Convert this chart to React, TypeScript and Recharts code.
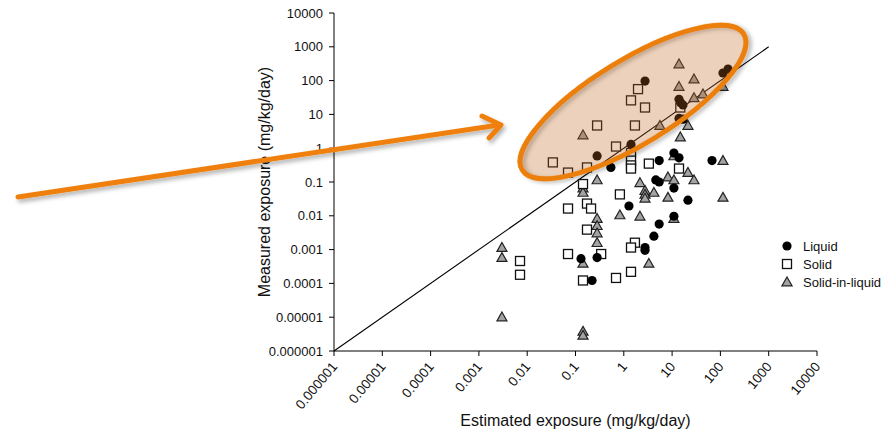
import React from "react";
import {
  ScatterChart,
  Scatter,
  XAxis,
  YAxis,
  ReferenceLine,
  Label,
} from "recharts";

// log ticks shared by both axes
const TICKS = [1e-6, 1e-5, 1e-4, 1e-3, 1e-2, 1e-1, 1, 10, 100, 1000, 10000];
const TICK_LABELS = [
  "0.000001", "0.00001", "0.0001", "0.001", "0.01", "0.1",
  "1", "10", "100", "1000", "10000",
];

// [estimated, measured] in mg/kg/day
const liquid: [number, number][] = [
  [2.75, 97], [0.28, 0.59], [1.41, 1.29], [0.54, 0.27], [13.9, 28],
  [16.8, 19], [15, 22], [13.9, 7.6], [16.8, 7.2], [113, 168], [144, 220],
  [5.4, 0.43], [10.9, 0.72], [13.9, 0.52], [67, 0.43], [4.6, 0.115],
  [5.4, 0.1], [10.9, 0.066], [1.28, 0.0195], [21.3, 0.029], [10.9, 0.0097],
  [5.4, 0.0057], [4.2, 0.0025], [2.75, 0.00115], [2.75, 0.00095],
  [0.13, 0.00054], [0.28, 0.00058], [0.22, 0.000122],
];

const solid: [number, number][] = [
  [0.034, 0.38], [0.07, 0.19], [0.173, 0.27], [0.28, 4.7], [0.69, 1.12],
  [1.7, 4.7], [1.41, 26], [1.97, 56], [2.75, 16], [14.8, 16], [1.41, 0.72],
  [1.41, 0.43], [1.41, 0.31], [1.41, 0.25], [3.3, 0.35], [13.9, 0.25],
  [0.143, 0.087], [0.83, 0.043], [0.07, 0.0164], [0.173, 0.023],
  [0.21, 0.0164], [0.173, 0.0039], [0.0071, 0.00046], [0.0071, 0.00018],
  [0.07, 0.00074], [0.34, 0.00074], [0.143, 0.000122], [0.69, 0.000145],
  [1.7, 0.0016], [1.41, 0.00115], [1.41, 0.00022],
];

const solidInLiquid: [number, number][] = [
  [0.143, 2.46], [13.9, 310], [28.4, 111], [13.9, 67], [28.4, 31],
  [43.6, 40], [5.6, 4.7], [21.3, 4.7], [14.8, 2.14], [113, 67],
  [0.28, 0.115], [0.143, 0.066], [0.143, 0.049], [0.83, 0.0106],
  [0.28, 0.0083], [0.28, 0.0051], [0.28, 0.0031], [0.28, 0.0016],
  [0.003, 0.00115], [0.003, 0.00058], [0.143, 0.00039], [0.003, 0.0000101],
  [0.143, 0.0000038], [0.143, 0.0000029], [2.16, 0.095], [2.75, 0.056],
  [2.75, 0.043], [2.75, 0.033], [4.2, 0.049], [8.2, 0.14], [10.9, 0.115],
  [21.3, 0.19], [28.4, 0.115], [10.9, 0.59], [113, 0.43], [113, 0.035],
  [8.2, 0.035], [2.16, 0.0097], [10.9, 0.0083], [3.3, 0.00039],
];

const SERIES = ["Liquid", "Solid", "Solid-in-liquid"];

const toPoints = (arr: [number, number][]) => arr.map(([x, y]) => ({ x, y }));

const FONT = "'Liberation Sans', Arial, sans-serif";

const Dot = ({ cx, cy }: any) => <circle cx={cx} cy={cy} r={4.6} fill="#000" />;
const Box = ({ cx, cy }: any) => (
  <rect x={cx - 4.5} y={cy - 4.5} width={9} height={9} fill="#fff" stroke="#111" strokeWidth={1.3} />
);
const Tri = ({ cx, cy }: any) => (
  <path
    d={`M${cx},${cy - 5} L${cx + 5},${cy + 3.8} L${cx - 5},${cy + 3.8} Z`}
    fill="#a3a3a3"
    stroke="#222"
    strokeWidth={1.2}
  />
);

const icons = [
  <circle key="c" cx={6} cy={6} r={4.6} fill="#000" />,
  <rect key="r" x={1.5} y={1.5} width={9} height={9} fill="#fff" stroke="#111" strokeWidth={1.3} />,
  <path key="t" d="M6,1 L11,9.8 L1,9.8 Z" fill="#a3a3a3" stroke="#222" strokeWidth={1.2} />,
];

const LegendBox = () => (
  <div
    style={{
      position: "absolute",
      left: 781,
      top: 237,
      fontFamily: FONT,
      fontSize: 13,
      color: "#111",
    }}
  >
    {SERIES.map((name, i) => (
      <div key={name} style={{ display: "flex", alignItems: "center", height: 18 }}>
        <svg width={12} height={12} style={{ marginRight: 10 }}>
          {icons[i]}
        </svg>
        <span>{name}</span>
      </div>
    ))}
  </div>
);

const fmt = (v: number) => {
  const i = TICKS.findIndex((t) => Math.abs(Math.log10(t) - Math.log10(v)) < 1e-6);
  return i >= 0 ? TICK_LABELS[i] : String(v);
};

const XTick = ({ x, y, payload }: any) => (
  <text
    transform={`translate(${x + 4},${y + 11}) rotate(-50)`}
    textAnchor="end"
    fontSize={13.5}
    fontFamily={FONT}
    fill="#111"
  >
    {fmt(payload.value)}
  </text>
);

export default function App() {
  return (
    <div style={{ position: "absolute", left: 0, top: 0, width: 892, height: 432, background: "#fff" }}>
      <ScatterChart width={892} height={432} margin={{ top: 13, right: 75, bottom: 0, left: 254 }}>
        <XAxis
          type="number"
          dataKey="x"
          scale="log"
          domain={[1e-6, 1e4]}
          ticks={TICKS}
          interval={0}
          allowDataOverflow
          stroke="#000"
          tickSize={5}
          tickMargin={0}
          height={81}
          tick={<XTick />}
        >
          <Label
            content={({ viewBox }: any) => (
              <text
                x={viewBox.x + viewBox.width / 2}
                y={viewBox.y + 75}
                textAnchor="middle"
                fontSize={16}
                fontFamily={FONT}
                fill="#111"
              >
                Estimated exposure (mg/kg/day)
              </text>
            )}
          />
        </XAxis>
        <YAxis
          type="number"
          dataKey="y"
          scale="log"
          domain={[1e-6, 1e4]}
          ticks={TICKS}
          interval={0}
          allowDataOverflow
          stroke="#000"
          tickSize={5}
          tickMargin={6}
          width={80}
          tickFormatter={fmt}
          tick={{ fontSize: 13, fontFamily: FONT, fill: "#111" }}
        >
          <Label
            content={({ viewBox }: any) => {
              const cx = viewBox.x + 16;
              const cy = viewBox.y + viewBox.height / 2;
              return (
                <text
                  transform={`translate(${cx},${cy}) rotate(-90)`}
                  textAnchor="middle"
                  fontSize={16}
                  fontFamily={FONT}
                  fill="#111"
                >
                  Measured exposure (mg/kg/day)
                </text>
              );
            }}
          />
        </YAxis>
        <ReferenceLine
          segment={[
            { x: 1e-6, y: 1e-6 },
            { x: 1000, y: 1000 },
          ]}
          stroke="#000"
          strokeWidth={1.1}
        />
        <Scatter name={SERIES[2]} data={toPoints(solidInLiquid)} shape={<Tri />} isAnimationActive={false} />
        <Scatter name={SERIES[1]} data={toPoints(solid)} shape={<Box />} isAnimationActive={false} />
        <Scatter name={SERIES[0]} data={toPoints(liquid)} shape={<Dot />} isAnimationActive={false} />
      </ScatterChart>
      <LegendBox />
      {/* highlight annotation: ellipse + arrow */}
      <svg
        width={892}
        height={432}
        style={{ position: "absolute", left: 0, top: 0, pointerEvents: "none" }}
      >
        <defs>
          <filter id="shadow" x="-20%" y="-20%" width="140%" height="160%">
            <feDropShadow dx={2} dy={3} stdDeviation={2} floodColor="#000" floodOpacity={0.3} />
          </filter>
        </defs>
        <g transform="rotate(-31.5 633 102)">
          <ellipse cx={633} cy={102} rx={130} ry={42} fill="none" stroke="#ec7f0c" strokeWidth={4.5} filter="url(#shadow)" />
          <ellipse cx={633} cy={102} rx={130} ry={42} fill="#c06a20" fillOpacity={0.3} stroke="none" />
          <ellipse cx={633} cy={102} rx={130} ry={42} fill="none" stroke="#ec7f0c" strokeWidth={4.5} />
        </g>
        <g filter="url(#shadow)" stroke="#ef800c" strokeWidth={5} strokeLinecap="round" fill="none">
          <line x1={18} y1={197} x2={499} y2={125} />
          <polyline points="482,116 501,125 489,138" strokeLinejoin="round" />
        </g>
      </svg>
    </div>
  );
}
